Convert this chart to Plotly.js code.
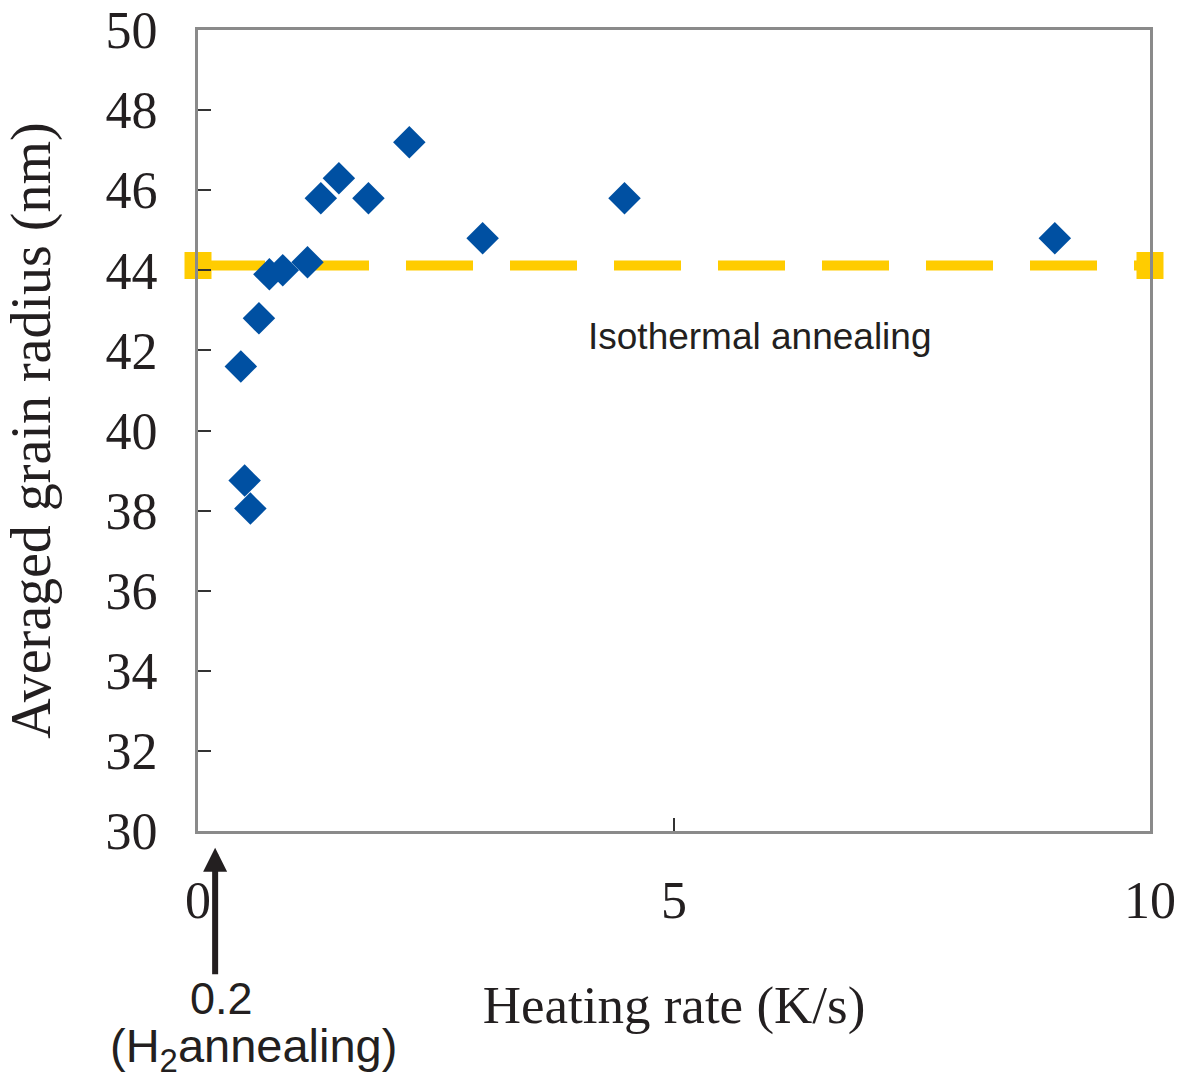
<!DOCTYPE html>
<html>
<head>
<meta charset="utf-8">
<script src="https://cdn.plot.ly/plotly-3.0.1.min.js"></script>
<style>html,body{margin:0;padding:0;background:#fff;}#chart{width:1180px;height:1079px;}</style>
</head>
<body>
<div id="chart"></div>
<script>
// Measured data: heating rate (K/s) vs averaged grain radius (nm)
const heatingRate = [0.45, 0.49, 0.55, 0.64, 0.75, 0.89, 1.15, 1.29, 1.48, 1.79, 2.22, 2.99, 4.48, 9.0];
const grainRadius = [41.6, 38.75, 38.05, 42.8, 43.9, 44.0, 44.2, 45.8, 46.3, 45.8, 47.2, 44.8, 45.8, 44.8];
// Isothermal annealing reference level
const isoX = [0, 10];
const isoY = [44.12, 44.12];
const xTicks = [0, 5, 10];
const yTicks = [30, 32, 34, 36, 38, 40, 42, 44, 46, 48, 50];

const serif = '"Liberation Serif", "Times New Roman", serif';
const sans = '"Liberation Sans", Arial, sans-serif';

const traces = [
  {
    x: isoX, y: isoY, type: 'scatter', mode: 'lines+markers', cliponaxis: false,
    line: {color: '#FFCC00', width: 10, dash: '67px,37px'},
    marker: {symbol: 'square', size: 27, color: '#FFCC00'},
    showlegend: false, hoverinfo: 'skip'
  },
  {
    x: heatingRate, y: grainRadius, type: 'scatter', mode: 'markers', cliponaxis: false,
    marker: {symbol: 'diamond', size: 25, color: '#0050A2'},
    showlegend: false
  }
];

const plotL = 198, plotR = 30, plotT = 30, plotB = 248;
const plotW = 1180 - plotL - plotR, plotH = 1079 - plotT - plotB;
const px = x => (x - plotL) / plotW;
const py = y => (1079 - plotB - y) / plotH;

const layout = {
  width: 1180, height: 1079,
  margin: {l: plotL, r: plotR, t: plotT, b: plotB},
  paper_bgcolor: '#ffffff', plot_bgcolor: '#ffffff',
  font: {family: serif, color: '#231f20'},
  xaxis: {
    range: [0, 10], tickvals: xTicks, ticktext: xTicks.map(String),
    showgrid: false, zeroline: false,
    showline: true, mirror: true, linecolor: '#8a8a8a', linewidth: 3,
    ticks: 'inside', ticklen: 13, tickwidth: 2, tickcolor: '#333',
    tickfont: {family: serif, size: 52, color: '#231f20'},
    ticklabelstandoff: 22,
    title: {text: 'Heating rate (K/s)', font: {family: serif, size: 53, color: '#231f20'}, standoff: 58}
  },
  yaxis: {
    range: [30, 50], tickvals: yTicks, ticktext: yTicks.map(String),
    showgrid: false, zeroline: false,
    showline: true, mirror: true, linecolor: '#8a8a8a', linewidth: 3,
    ticks: 'inside', ticklen: 13, tickwidth: 2, tickcolor: '#333',
    tickfont: {family: serif, size: 52, color: '#231f20'},
    ticklabelstandoff: 27,
    title: {text: 'Averaged grain radius (nm)', font: {family: serif, size: 56, color: '#231f20'}, standoff: 38}
  },
  annotations: [
    {x: 5.9, y: 42.35, xref: 'x', yref: 'y', xanchor: 'center', yanchor: 'middle',
     text: 'Isothermal annealing', showarrow: false,
     font: {family: sans, size: 37, color: '#231f20'}},
    {x: 0.18, y: -0.021, xref: 'x', yref: 'paper', text: '', showarrow: true,
     ax: 0, ay: 128, arrowhead: 2, arrowsize: 0.8, arrowwidth: 6, arrowcolor: '#231f20'},
    {x: px(221), y: py(998), xref: 'paper', yref: 'paper', xanchor: 'center', yanchor: 'middle',
     text: '0.2', showarrow: false,
     font: {family: sans, size: 45, color: '#231f20'}},
    {x: px(253), y: py(1049), xref: 'paper', yref: 'paper', xanchor: 'center', yanchor: 'middle',
     text: '(H<sub>2</sub>annealing)', showarrow: false,
     font: {family: sans, size: 47, color: '#231f20'}}
  ]
};

Plotly.newPlot('chart', traces, layout, {displayModeBar: false, staticPlot: true});
</script>
</body>
</html>
